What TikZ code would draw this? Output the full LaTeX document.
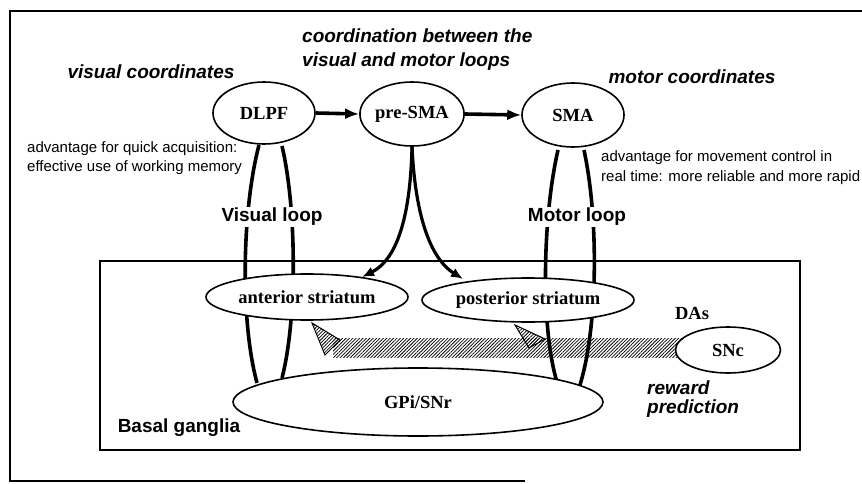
\documentclass[tikz,border=0pt]{standalone}
\usepackage{fontspec}
\setmainfont{Liberation Serif}
\setsansfont{Liberation Sans}
\usetikzlibrary{shapes.geometric,arrows.meta,patterns.meta}
\tikzset{
  oval/.style={ellipse,draw,line width=1.6pt,fill=white,inner sep=0pt,
    font=\fontsize{18.5}{22}\selectfont\bfseries},
  loopline/.style={line width=3.6pt},
  ttl/.style={font=\fontsize{19}{24}\selectfont\sffamily\bfseries\itshape,inner sep=0pt},
  bsans/.style={font=\fontsize{19}{23}\selectfont\sffamily\bfseries,inner sep=1pt},
  note/.style={font=\fontsize{15}{19.5}\selectfont\sffamily,align=left,inner sep=0pt},
  harrow/.style={line width=3.6pt,-{Latex[length=14pt,width=11pt]}},
  carrow/.style={line width=3.2pt,-{Latex[length=12pt,width=10pt]}},
  hatch/.style={pattern={Lines[angle=45,distance=2.4pt,line width=0.75pt]}},
}
\begin{document}
\begin{tikzpicture}[x=1pt,y=-1pt]
\useasboundingbox (0,0) rectangle (862,484);
% outer frame
\draw[line width=1.3pt] (862,11) -- (10,11) -- (10,481) -- (525,481);
% basal ganglia box
\draw[line width=1.4pt] (100,261) rectangle (800,450);

% loops (behind)
\coordinate (v1) at (259,145); \coordinate (v2) at (257,383);
\coordinate (v3) at (282,146); \coordinate (v4) at (282,378);
\coordinate (m1) at (558,150); \coordinate (m2) at (557,382);
\coordinate (m3) at (584,150); \coordinate (m4) at (579,388);
\draw[loopline] (v1) .. controls (242,210) and (240,320) .. (v2);
\draw[loopline] (v3) .. controls (297,210) and (297,320) .. (v4);
\draw[loopline] (m1) .. controls (542,220) and (541,330) .. (m2);
\draw[loopline] (m3) .. controls (599,220) and (598,330) .. (m4);

% nodes
\node[oval,minimum width=102pt,minimum height=62pt] (dlpf) at (264,113) {DLPF};
\node[oval,minimum width=101pt,minimum height=64pt] (presma) at (412,114) {pre-SMA};
\node[oval,minimum width=102pt,minimum height=64pt] (sma) at (573,115) {SMA};
\node[oval,minimum width=202pt,minimum height=46pt] (ant) at (307,297) {anterior striatum};
\node[oval,minimum width=212pt,minimum height=44pt] (post) at (528,300) {posterior striatum};
\node[oval,minimum width=370pt,minimum height=68pt] (gpi) at (418,402) {GPi/SNr};

% arrows
\draw[harrow] (dlpf.east) -- (presma.west);
\draw[harrow] (presma.east) -- (sma.west);
\draw[carrow] (presma.south) .. controls (410,230) and (392,262) .. (362,277);
\draw[carrow] (presma.south) .. controls (416,230) and (436,262) .. (463,279);

% dopamine bar
\fill[hatch] (333,338) rectangle (690,357);
\filldraw[hatch,draw=black,line width=1pt] (312,323) -- (340,340) -- (325,355) -- cycle;
\filldraw[hatch,draw=black,line width=1pt] (515,325) -- (545,339) -- (529,348) -- cycle;
\node[oval,minimum width=105pt,minimum height=46pt] (snc) at (728,350) {SNc};

% labels
\node[bsans,fill=white] (vl) at (272,217) {Visual loop};
\node[bsans,fill=white] (ml) at (577,217) {Motor loop};
\node[bsans] (bg) at (179,428) {Basal ganglia};
\node[font=\fontsize{18.5}{22}\selectfont\bfseries,inner sep=0pt] (das) at (692,313) {DAs};
\node[ttl] (vc) at (151,72) {visual coordinates};
\node[ttl] (mc) at (692,77) {motor coordinates};
\node[ttl,align=left,anchor=west] (coord) at (302,50) {coordination between the\\visual and motor loops};
\node[ttl,align=left,anchor=west] (rp) at (647,399) {reward\\[-5pt]prediction};
\node[note,anchor=west] (advl) at (27,158) {advantage for quick acquisition:\\effective use of working memory};
\node[note,anchor=west] (advr) at (601,167.5) {advantage for movement control in\\real time: more reliable and more rapid};
\end{tikzpicture}
\end{document}
